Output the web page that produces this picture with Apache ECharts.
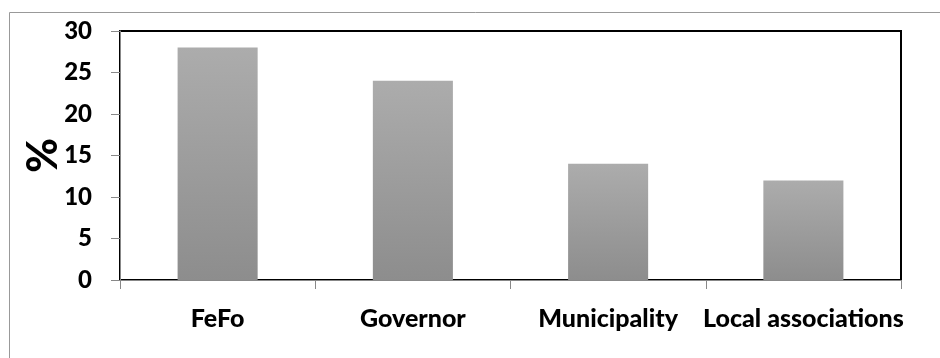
<!DOCTYPE html>
<html><head><meta charset="utf-8">
<script src="https://cdn.jsdelivr.net/npm/echarts@6/dist/echarts.min.js"></script>
<style>html,body{margin:0;padding:0;background:#fff}#c{width:940px;height:358px}</style>
</head><body><div id="c"></div>
<script>
const categories = ["FeFo", "Governor", "Municipality", "Local associations"];
const values = [28, 24, 14, 12];
const yTicks = [0, 5, 10, 15, 20, 25, 30];

const chart = echarts.init(document.getElementById('c'));
chart.setOption({
  animation: false,
  backgroundColor: '#fff',
  graphic: [{type: 'rect', shape: {x: 9.5, y: 12.5, width: 940, height: 360},
    style: {fill: 'none', stroke: '#999', lineWidth: 1}, silent: true}],
  grid: {left: 120, right: 39, top: 31, bottom: 78, show: true,
    borderColor: '#000', borderWidth: 2, backgroundColor: 'transparent'},
  xAxis: {type: 'category', data: categories,
    axisLine: {lineStyle: {color: '#888', width: 1}},
    axisTick: {show: true, length: 9, lineStyle: {color: '#888'}},
    axisLabel: {color: '#000', fontFamily: 'Lato', fontWeight: 900, fontSize: 25, margin: 26, interval: 0},
    splitLine: {show: false}},
  yAxis: {type: 'value', min: yTicks[0], max: yTicks[yTicks.length - 1], interval: 5,
    name: '%', nameLocation: 'middle', nameGap: 56, nameRotate: 90, nameMoveOverlap: false,
    nameTextStyle: {color: '#000', fontFamily: 'Lato', fontWeight: 900, fontSize: 42},
    axisLine: {show: true, lineStyle: {color: '#888', width: 1}},
    axisTick: {show: true, length: 9, lineStyle: {color: '#888'}},
    axisLabel: {color: '#000', fontFamily: 'Lato', fontWeight: 900, fontSize: 24, margin: 28},
    splitLine: {show: false}},
  series: [{type: 'bar', data: values, barWidth: '41%',
    itemStyle: {color: new echarts.graphic.LinearGradient(0, 0, 0, 1,
      [{offset: 0, color: '#acacac'}, {offset: 1, color: '#8d8d8d'}])}}]
});
</script></body></html>
